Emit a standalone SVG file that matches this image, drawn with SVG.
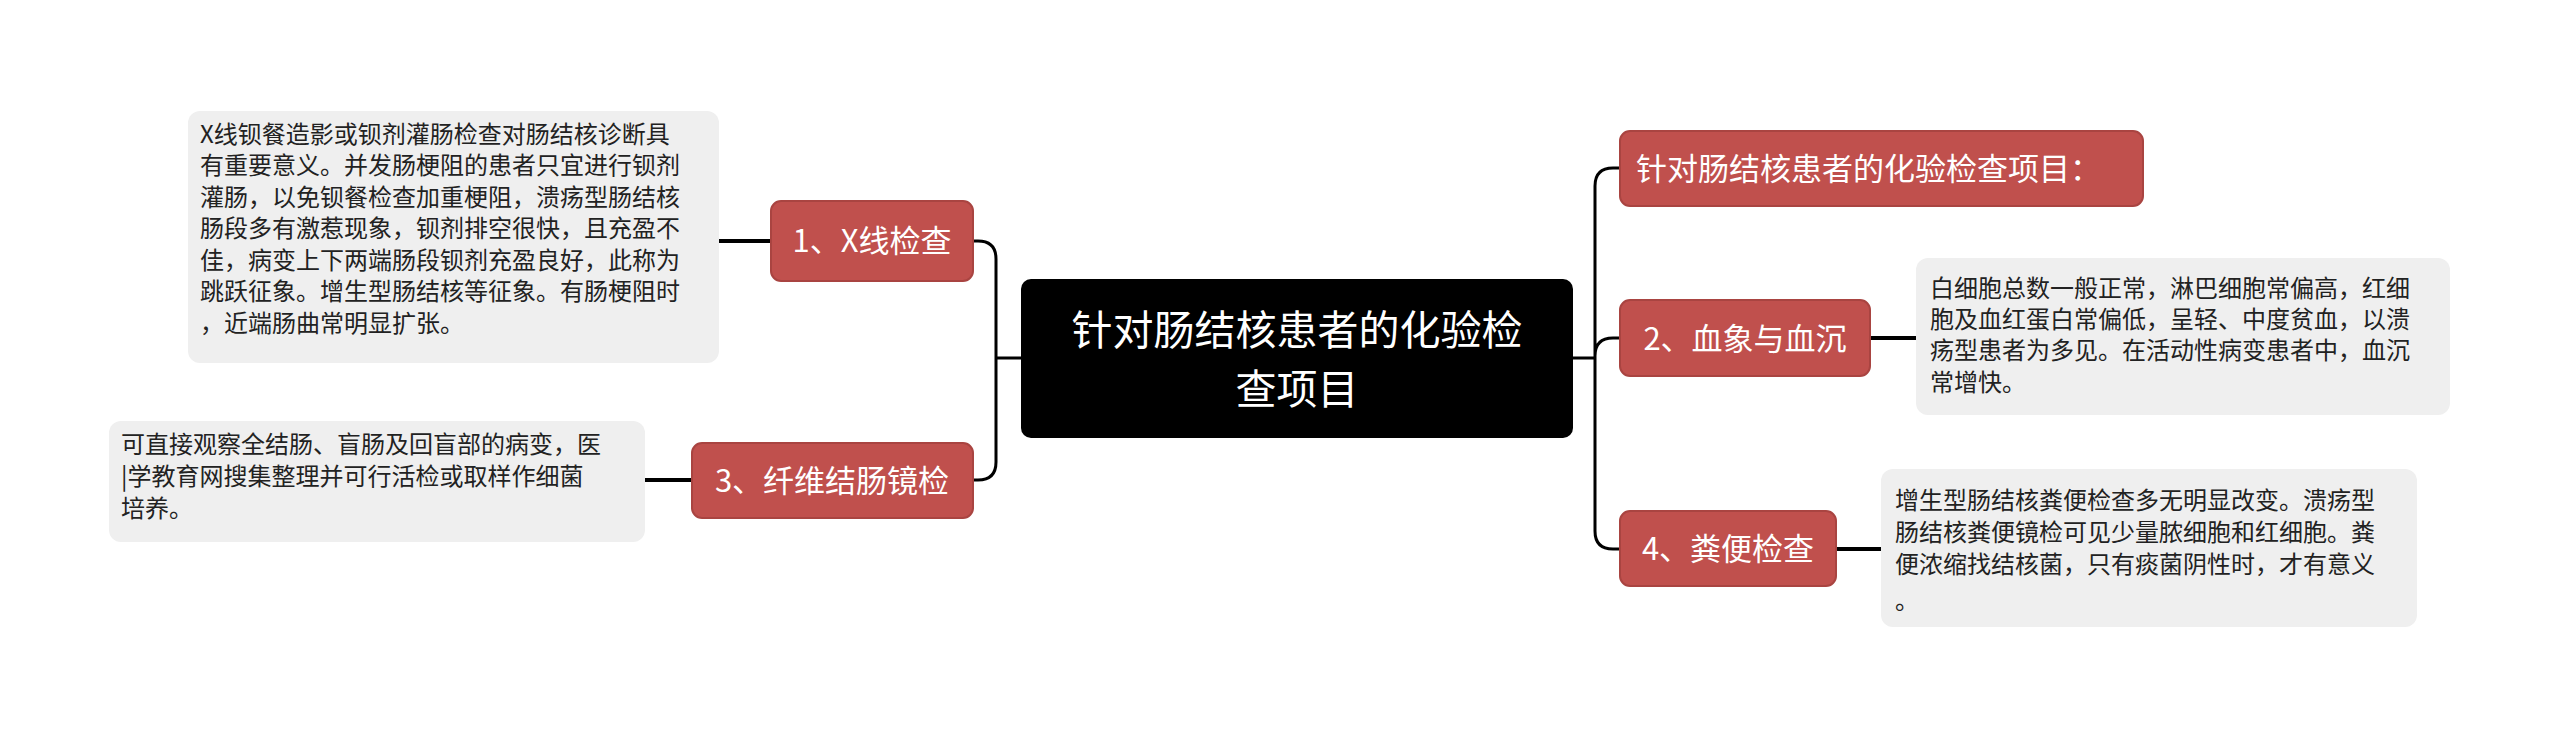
<svg xmlns="http://www.w3.org/2000/svg" width="2560" height="737" viewBox="0 0 2560 737">
<style>
text{font-family:"Noto Sans CJK SC","Noto Sans",sans-serif}
.red{fill:#c0504d;stroke:#a94441;stroke-width:2}
.rt{fill:#fff;font-size:31px}
.box{fill:#efefef}
.bt{fill:#222;font-size:24px}
.c{fill:none;stroke:#000;stroke-width:3}
.t{fill:none;stroke:#000;stroke-width:4}
</style>
<rect width="2560" height="737" fill="#fff"/>
<g id="connectors">
<path class="c" d="M1573,358 H1595 M1595,358 V186 Q1595,168 1613,168 H1620 M1595,358 V356 Q1595,338 1613,338 H1620 M1595,358 V531 Q1595,549 1613,549 H1620"/>
<path class="c" d="M1021,358 H996 M996,358 V259 Q996,241 978,241 H973 M996,358 V462 Q996,480 978,480 H973"/>
<path class="t" d="M1870,338 H1916 M1836,549 H1881 M771,241 H719 M692,480 H645"/>
</g>
<g id="center">
<rect x="1021" y="279" width="552" height="159" rx="10" fill="#000"/>
<text x="1297" y="345" text-anchor="middle" fill="#fff" font-size="41">针对肠结核患者的化验检</text>
<text x="1297" y="404" text-anchor="middle" fill="#fff" font-size="41">查项目</text>
</g>
<g id="n0"><rect class="red" x="1620" y="131" width="523" height="75" rx="10"/><text class="rt" x="1636" y="180">针对肠结核患者的化验检查项目：</text></g>
<g id="n1"><rect class="red" x="771" y="201" width="202" height="80" rx="10"/><text class="rt" x="872" y="252" text-anchor="middle">1、X线检查</text></g>
<g id="n2"><rect class="red" x="1620" y="300" width="250" height="76" rx="10"/><text class="rt" x="1745" y="350" text-anchor="middle">2、血象与血沉</text></g>
<g id="n3"><rect class="red" x="692" y="443" width="281" height="75" rx="10"/><text class="rt" x="832" y="492" text-anchor="middle">3、纤维结肠镜检</text></g>
<g id="n4"><rect class="red" x="1620" y="511" width="216" height="75" rx="10"/><text class="rt" x="1728" y="560" text-anchor="middle">4、粪便检查</text></g>
<g id="b1"><rect class="box" x="188" y="111" width="531" height="252" rx="12"/>
<text class="bt" x="200"><tspan x="200" y="143">X线钡餐造影或钡剂灌肠检查对肠结核诊断具</tspan><tspan x="200" y="174">有重要意义。并发肠梗阻的患者只宜进行钡剂</tspan><tspan x="200" y="206">灌肠，以免钡餐检查加重梗阻，溃疡型肠结核</tspan><tspan x="200" y="237">肠段多有激惹现象，钡剂排空很快，且充盈不</tspan><tspan x="200" y="269">佳，病变上下两端肠段钡剂充盈良好，此称为</tspan><tspan x="200" y="300">跳跃征象。增生型肠结核等征象。有肠梗阻时</tspan><tspan x="200" y="332">，近端肠曲常明显扩张。</tspan></text></g>
<g id="b2"><rect class="box" x="1916" y="258" width="534" height="157" rx="12"/>
<text class="bt"><tspan x="1930" y="297">白细胞总数一般正常，淋巴细胞常偏高，红细</tspan><tspan x="1930" y="328">胞及血红蛋白常偏低，呈轻、中度贫血，以溃</tspan><tspan x="1930" y="359">疡型患者为多见。在活动性病变患者中，血沉</tspan><tspan x="1930" y="391">常增快。</tspan></text></g>
<g id="b3"><rect class="box" x="109" y="421" width="536" height="121" rx="12"/>
<text class="bt"><tspan x="121" y="453">可直接观察全结肠、盲肠及回盲部的病变，医</tspan><tspan x="121" y="485">|学教育网搜集整理并可行活检或取样作细菌</tspan><tspan x="121" y="517">培养。</tspan></text></g>
<g id="b4"><rect class="box" x="1881" y="469" width="536" height="158" rx="12"/>
<text class="bt"><tspan x="1895" y="509">增生型肠结核粪便检查多无明显改变。溃疡型</tspan><tspan x="1895" y="541">肠结核粪便镜检可见少量脓细胞和红细胞。粪</tspan><tspan x="1895" y="573">便浓缩找结核菌，只有痰菌阴性时，才有意义</tspan><tspan x="1895" y="609">。</tspan></text></g>
</svg>
